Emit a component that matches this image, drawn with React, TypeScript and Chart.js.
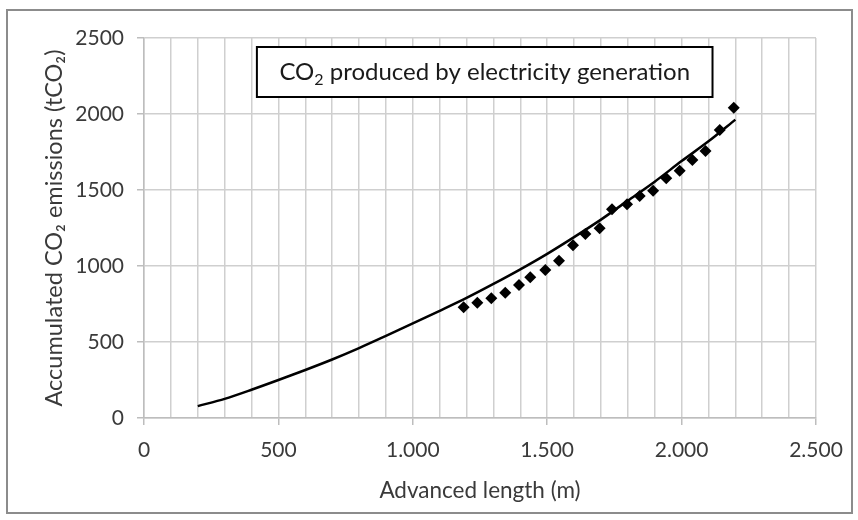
import React, { useEffect, useRef } from "react";
import { Chart, registerables } from "chart.js";

Chart.register(...registerables);

// Fitted curve: accumulated CO2 vs advanced length
const curveLength = [200, 300, 400, 500, 600, 700, 800, 900, 1000, 1100, 1200, 1300, 1400, 1500, 1600, 1700, 1800, 1900, 2000, 2100, 2200];
const curveCO2 = [78, 126, 186, 250, 316, 385, 460, 540, 622, 705, 790, 882, 978, 1080, 1190, 1305, 1430, 1555, 1690, 1820, 1963];

// Measured values
const measuredLength = [1189, 1240, 1292, 1344, 1395, 1437, 1493, 1544, 1596, 1642, 1695, 1741, 1797, 1844, 1894, 1943, 1993, 2040, 2089, 2142, 2194];
const measuredCO2 = [728, 759, 788, 824, 875, 926, 974, 1035, 1136, 1211, 1248, 1373, 1406, 1461, 1495, 1577, 1627, 1697, 1757, 1895, 2041];

const xTickValues = [0, 500, 1000, 1500, 2000, 2500];
const yTickValues = [0, 500, 1000, 1500, 2000, 2500];

const FONT = "Lato, 'Open Sans', sans-serif";
const TEXT = "#3a3a3a";
const GRID = "#cfcfcf";

const fmtThousands = (v: number) =>
  String(Math.round(v)).replace(/\B(?=(\d{3})+(?!\d))/g, ".");

// Boxed chart heading with a subscript "2", drawn inside the plot area
const headingBox = {
  id: "headingBox",
  afterDraw(chart: any) {
    const { ctx, chartArea } = chart;
    const w = chartArea.right - chartArea.left;
    const left = chartArea.left + w * 0.168;
    const right = chartArea.left + w * 0.846;
    const top = chartArea.top + 9;
    const bottom = top + 50;
    ctx.save();
    ctx.fillStyle = "#ffffff";
    ctx.fillRect(left, top, right - left, bottom - top);
    ctx.strokeStyle = "#000000";
    ctx.lineWidth = 2;
    ctx.strokeRect(left, top, right - left, bottom - top);

    const big = `24px ${FONT}`;
    const small = `16px ${FONT}`;
    const a = "CO";
    const sub = "2";
    const rest = " produced by electricity generation";
    ctx.font = big;
    const wa = ctx.measureText(a).width;
    const wr = ctx.measureText(rest).width;
    ctx.font = small;
    const ws = ctx.measureText(sub).width;
    const total = wa + ws + wr;
    let x = (left + right) / 2 - total / 2;
    const y = (top + bottom) / 2;
    ctx.fillStyle = "#1a1a1a";
    ctx.textBaseline = "middle";
    ctx.textAlign = "left";
    ctx.font = big;
    ctx.fillText(a, x, y);
    x += wa;
    ctx.font = small;
    ctx.fillText(sub, x, y + 8);
    x += ws;
    ctx.font = big;
    ctx.fillText(rest, x, y);
    ctx.restore();
  },
};

export default function App() {
  const ref = useRef<HTMLCanvasElement | null>(null);

  useEffect(() => {
    if (!ref.current) return;
    const chart = new Chart(ref.current, {
      type: "scatter",
      data: {
        datasets: [
          {
            type: "line",
            label: "Fitted",
            data: curveLength.map((x, i) => ({ x, y: curveCO2[i] })),
            borderColor: "#000000",
            borderWidth: 2.5,
            pointRadius: 0,
            tension: 0.3,
            fill: false,
          },
          {
            type: "scatter",
            label: "Measured",
            data: measuredLength.map((x, i) => ({ x, y: measuredCO2[i] })),
            pointStyle: "rectRot",
            pointRadius: 6,
            backgroundColor: "#000000",
            borderColor: "#000000",
            borderWidth: 0,
          },
        ],
      },
      options: {
        responsive: false,
        animation: false,
        layout: { padding: { top: 38, right: 42, left: 0, bottom: 0 } },
        plugins: {
          legend: { display: false },
          tooltip: { enabled: false },
          title: { display: false },
        },
        scales: {
          x: {
            type: "linear",
            min: 0,
            max: 2500,
            afterFit: (s: any) => {
              s.height = 102;
            },
            afterBuildTicks: (s: any) => {
              const t = [];
              for (let v = 0; v <= 2500; v += 100) t.push({ value: v });
              s.ticks = t;
            },
            ticks: {
              autoSkip: false,
              maxRotation: 0,
              padding: 13,
              color: TEXT,
              font: { family: FONT, size: 21 },
              callback: (v: any) => (xTickValues.includes(v) ? fmtThousands(v) : ""),
            },
            grid: {
              color: GRID,
              lineWidth: 1.5,
              tickLength: 7,
              tickColor: (c: any) =>
                c.tick && xTickValues.includes(c.tick.value) ? "#bdbdbd" : "rgba(0,0,0,0)",
            },
            border: { color: "#bdbdbd", width: 1.5 },
            title: {
              display: true,
              text: "Advanced length (m)",
              color: TEXT,
              font: { family: FONT, size: 22.5 },
              padding: { top: 0, bottom: 16 },
            },
          },
          y: {
            type: "linear",
            min: 0,
            max: 2500,
            afterFit: (s: any) => {
              s.width = 144;
            },
            afterBuildTicks: (s: any) => {
              s.ticks = yTickValues.map((value) => ({ value }));
            },
            ticks: {
              padding: 13,
              color: TEXT,
              font: { family: FONT, size: 21 },
              callback: (v: any) => String(v),
            },
            grid: {
              color: GRID,
              lineWidth: 1.5,
              tickLength: 7,
              tickColor: "#bdbdbd",
            },
            border: { color: "#bdbdbd", width: 1.5 },
            title: {
              display: true,
              text: "Accumulated CO₂ emissions (tCO₂)",
              color: TEXT,
              font: { family: FONT, size: 23.5 },
              padding: { top: 40, bottom: 0 },
            },
          },
        },
      },
      plugins: [headingBox],
    });
    return () => chart.destroy();
  }, []);

  return (
    <div
      style={{
        position: "fixed",
        left: 0,
        top: 0,
        width: 858,
        height: 520,
        background: "#ffffff",
      }}
    >
      <div
        style={{
          position: "absolute",
          left: 6,
          top: 9,
          width: 843,
          height: 501,
          border: "2px solid #8c8c8c",
        }}
      />
      <canvas ref={ref} width={858} height={520} style={{ position: "absolute", left: 0, top: 0 }} />
    </div>
  );
}
